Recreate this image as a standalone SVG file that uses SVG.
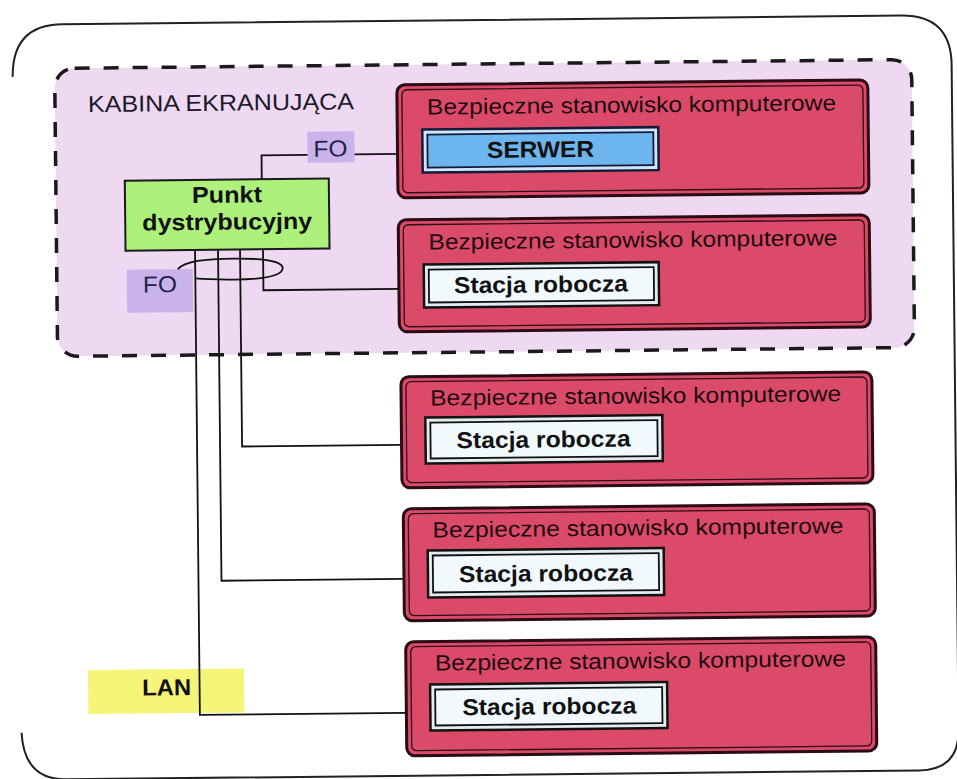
<svg xmlns="http://www.w3.org/2000/svg" width="957" height="779" viewBox="0 0 957 779">
<style>
text{font-family:"Liberation Sans",Arial,sans-serif}
.frame{fill:none;stroke:#222;stroke-width:2}
.cabin{fill:#efd8f1;stroke:#1a1a1a;stroke-width:3.5;stroke-dasharray:15 14}
.red{fill:#dc4a6a;stroke:#2a0c14;stroke-width:3}
.redin{fill:none;stroke:#2a0c14;stroke-width:1.3}
.rtxt{font-size:22px;fill:#1c0a10}
.ibox{fill:#e4ecf0;stroke:#111;stroke-width:2.5}
.iin{fill:#f2f9fc;stroke:#111;stroke-width:1.8}
.sbox{fill:#cfe6f8;stroke:#141a3a;stroke-width:2.5}
.sin{fill:#6db5ee;stroke:#141a3a;stroke-width:1.8}
.btxt{font-size:23px;font-weight:bold;fill:#111;text-anchor:middle}
.fo{fill:#c9b3ea}
.fotxt{font-size:23px;fill:#22224a}
.wire{fill:none;stroke:#111;stroke-width:1.8}
</style>
<rect width="957" height="779" fill="#ffffff"/>
<g transform="rotate(-0.6 480 390)">
<g id="frame">
<path class="frame" d="M 18 728 Q 20 775 62 775 L 915 775 Q 955 775 955 735 L 955 70 Q 955 20 905 20 L 66 20 Q 16 20 16 72"/>
</g>
<g id="cabin">
<rect class="cabin" x="58" y="64" width="857" height="288" rx="20"/>
<text x="91" y="108" font-size="23" fill="#1a1a2a" textLength="266" lengthAdjust="spacingAndGlyphs">KABINA EKRANUJĄCA</text>
</g>
<g id="fo-top">
<rect class="fo" x="310" y="130" width="47" height="31"/>
<text class="fotxt" x="316" y="155" textLength="34" lengthAdjust="spacingAndGlyphs">FO</text>
</g>
<g id="fo-bottom">
<rect class="fo" x="128" y="266" width="66" height="43" fill="#c2aae8"/>
<text class="fotxt" x="144" y="289" textLength="34" lengthAdjust="spacingAndGlyphs">FO</text>
</g>
<g id="lan">
<rect x="85" y="666" width="156" height="44" fill="#f5f57a"/>
<text x="188" y="692" font-size="23" font-weight="bold" fill="#111" text-anchor="end" textLength="49" lengthAdjust="spacingAndGlyphs">LAN</text>
</g>
<g id="connectors">
<polyline class="wire" points="264,177 264,153 310,153"/>
<line class="wire" x1="357" y1="153" x2="425" y2="153"/>
<polyline class="wire" points="264.5,247 264.5,288 424,288"/>
<polyline class="wire" points="241.5,247 241.5,444 425,444"/>
<polyline class="wire" points="219.5,247 219.5,578 425,578"/>
<polyline class="wire" points="196.5,247 196.5,712 427,712"/>
<path class="wire" d="M 179 266 C 187 258 205 256 236 256 C 268 256 284 260 284 266 C 284 273 268 277 236 277 C 215 277 202 276 196.5 275.5"/>
</g>
<g id="punkt">
<rect x="127" y="177" width="204" height="70" fill="#aef07c" stroke="#1a1a1a" stroke-width="2"/>
<text class="btxt" x="229" y="200" textLength="70" lengthAdjust="spacingAndGlyphs">Punkt</text>
<text class="btxt" x="229" y="227" textLength="170" lengthAdjust="spacingAndGlyphs">dystrybucyjny</text>
</g>
<g id="station1">
<rect class="red" x="400" y="84" width="471" height="113" rx="8"/>
<rect class="redin" x="405" y="89" width="461" height="103" rx="5"/>
<text class="rtxt" x="430" y="114" textLength="409" lengthAdjust="spacingAndGlyphs">Bezpieczne stanowisko komputerowe</text>
<rect class="sbox" x="425" y="129" width="236" height="43"/>
<rect class="sin" x="430" y="134" width="226" height="33"/>
<text class="btxt" x="543" y="158" fill="#1a1f40" textLength="107" lengthAdjust="spacingAndGlyphs">SERWER</text>
</g>
<g id="station2">
<rect class="red" x="400" y="219" width="471" height="112" rx="8"/>
<rect class="redin" x="405" y="224" width="461" height="102" rx="5"/>
<text class="rtxt" x="430" y="249" textLength="409" lengthAdjust="spacingAndGlyphs">Bezpieczne stanowisko komputerowe</text>
<rect class="ibox" x="425" y="264" width="235" height="43"/>
<rect class="iin" x="430" y="269" width="225" height="33"/>
<text class="btxt" x="542" y="293" textLength="174" lengthAdjust="spacingAndGlyphs">Stacja robocza</text>
</g>
<g id="station3">
<rect class="red" x="401" y="376" width="471" height="111" rx="8"/>
<rect class="redin" x="406" y="381" width="461" height="101" rx="5"/>
<text class="rtxt" x="430" y="405" textLength="411" lengthAdjust="spacingAndGlyphs">Bezpieczne stanowisko komputerowe</text>
<rect class="ibox" x="425" y="417" width="237" height="46"/>
<rect class="iin" x="430" y="422" width="227" height="36"/>
<text class="btxt" x="543" y="448" textLength="174" lengthAdjust="spacingAndGlyphs">Stacja robocza</text>
</g>
<g id="station4">
<rect class="red" x="402" y="508" width="471" height="112" rx="8"/>
<rect class="redin" x="407" y="513" width="461" height="102" rx="5"/>
<text class="rtxt" x="431" y="537" textLength="411" lengthAdjust="spacingAndGlyphs">Bezpieczne stanowisko komputerowe</text>
<rect class="ibox" x="426" y="550" width="236" height="47"/>
<rect class="iin" x="431" y="555" width="226" height="37"/>
<text class="btxt" x="544" y="582" textLength="174" lengthAdjust="spacingAndGlyphs">Stacja robocza</text>
</g>
<g id="station5">
<rect class="red" x="403" y="641" width="470" height="114" rx="8"/>
<rect class="redin" x="408" y="646" width="460" height="104" rx="5"/>
<text class="rtxt" x="432" y="670" textLength="411" lengthAdjust="spacingAndGlyphs">Bezpieczne stanowisko komputerowe</text>
<rect class="ibox" x="427" y="684" width="237" height="46"/>
<rect class="iin" x="432" y="689" width="227" height="36"/>
<text class="btxt" x="546" y="715" textLength="174" lengthAdjust="spacingAndGlyphs">Stacja robocza</text>
</g>
</g>
</svg>
